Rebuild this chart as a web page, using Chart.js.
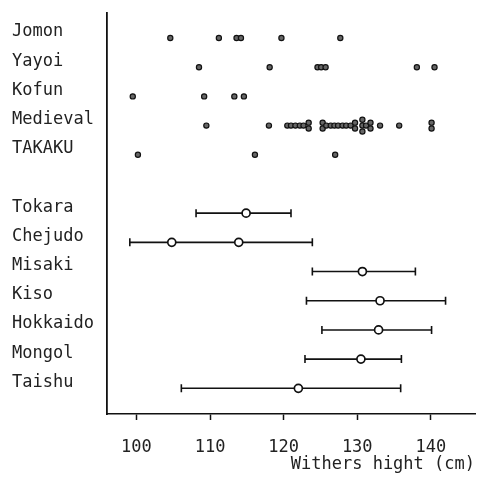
<!DOCTYPE html>
<html>
<head>
<meta charset="utf-8">
<script src="https://cdn.jsdelivr.net/npm/chart.js@4/dist/chart.umd.min.js"></script>
<style>
  body { margin: 0; background: #fff; }
</style>
</head>
<body>
<canvas id="myChart" width="487" height="485"></canvas>
<script>
// --- datos (altura a la cruz, cm) ---
const periodNames = ['Jomon', 'Yayoi', 'Kofun', 'Medieval', 'TAKAKU'];
const jomon = [104.6, 111.2, 113.6, 114.2, 119.7, 127.7];
const yayoi = [108.5, 118.1, 124.6, 125.1, 125.7, 138.1, 140.5];
const kofun = [99.5, 109.2, 113.3, 114.6];
const medieval = [109.5, 118.0, 120.5, 121.0, 121.6, 122.2, 122.7, 123.4, 123.4,
  125.3, 125.3, 125.8, 126.4, 126.9, 127.4, 128.0, 128.5, 129.1, 129.7, 129.7,
  130.7, 130.7, 130.7, 131.2, 131.8, 131.8, 133.1, 135.7, 140.1, 140.1];
const takaku = [100.2, 116.1, 127.0];

const breedNames = ['Tokara', 'Chejudo', 'Misaki', 'Kiso', 'Hokkaido', 'Mongol', 'Taishu'];
const breedLow = [108.1, 99.1, 123.9, 123.1, 125.2, 122.9, 106.1];
const breedHigh = [121.0, 123.9, 137.9, 142.0, 140.1, 136.0, 135.9];
const breedMean = [[114.9], [104.8, 113.9], [130.7], [133.1], [132.9], [130.5], [122.0]];

const xTicks = [100, 110, 120, 130, 140];
const xTitle = 'Withers hight (cm)';

// --- filas: periodos arriba, razas abajo con un hueco ---
const periodSeries = [jomon, yayoi, kofun, medieval, takaku];
const rowNames = {};
periodNames.forEach((n, i) => { rowNames[i] = n; });
const breedStart = periodNames.length + 1;
breedNames.forEach((n, i) => { rowNames[breedStart + i] = n; });
const rowValues = Object.keys(rowNames).map(Number);

// puntos repetidos se apilan verticalmente
function stackPoints(values, row) {
  const counts = {};
  values.forEach(v => { counts[v] = (counts[v] || 0) + 1; });
  const seen = {};
  return values.map(v => {
    const k = seen[v] || 0;
    seen[v] = k + 1;
    return { x: v, y: row + (k - (counts[v] - 1) / 2) * 0.2 };
  });
}

const dotData = [];
periodSeries.forEach((vals, i) => dotData.push(...stackPoints(vals, i)));

const meanData = [];
breedMean.forEach((ms, i) => ms.forEach(m => meanData.push({ x: m, y: breedStart + i })));

const rangeSets = breedNames.map((n, i) => ({
  type: 'line',
  label: n,
  data: [{ x: breedLow[i], y: breedStart + i }, { x: breedHigh[i], y: breedStart + i }],
  borderColor: '#111',
  borderWidth: 1.6,
  pointStyle: 'line',
  rotation: 90,
  pointRadius: 4,
  pointBorderColor: '#111',
  pointBorderWidth: 1.6,
  order: 2
}));

const font = { family: '"DejaVu Sans Mono", monospace', size: 17 };

new Chart(document.getElementById('myChart').getContext('2d'), {
  type: 'scatter',
  data: {
    datasets: [
      {
        label: 'periods',
        data: dotData,
        pointRadius: 2.6,
        pointBackgroundColor: '#666',
        pointBorderColor: '#111',
        pointBorderWidth: 1.2,
        order: 0
      },
      {
        label: 'means',
        data: meanData,
        pointRadius: 4,
        pointBackgroundColor: '#fff',
        pointBorderColor: '#111',
        pointBorderWidth: 1.7,
        order: 0
      },
      ...rangeSets
    ]
  },
  options: {
    responsive: false,
    animation: false,
    layout: { padding: { left: 12, right: 12, top: 8, bottom: 0 } },
    plugins: { legend: { display: false }, tooltip: { enabled: false } },
    scales: {
      x: {
        type: 'linear',
        min: 96,
        max: 146,
        afterBuildTicks: scale => { scale.ticks = xTicks.map(v => ({ value: v })); },
        afterFit: scale => { scale.height = 71; },
        grid: { drawOnChartArea: false, tickLength: 6, color: '#111', tickWidth: 1.5 },
        border: { color: '#111', width: 1.5 },
        ticks: { color: '#222', font: font, padding: 17, maxRotation: 0 },
        title: {
          display: true,
          text: xTitle,
          align: 'end',
          color: '#222',
          font: font,
          padding: { top: 0, bottom: 10 }
        }
      },
      y: {
        type: 'linear',
        reverse: true,
        min: -0.85,
        max: 12.88,
        afterBuildTicks: scale => { scale.ticks = rowValues.map(v => ({ value: v })); },
        afterFit: scale => { scale.width = 95; },
        grid: { display: true, drawOnChartArea: false, drawTicks: false, tickLength: 0 },
        border: { color: '#111', width: 1.8 },
        ticks: {
          color: '#222',
          font: font,
          crossAlign: 'far',
          labelOffset: -6,
          callback: v => rowNames[v] || ''
        }
      }
    }
  }
});
</script>
</body>
</html>
